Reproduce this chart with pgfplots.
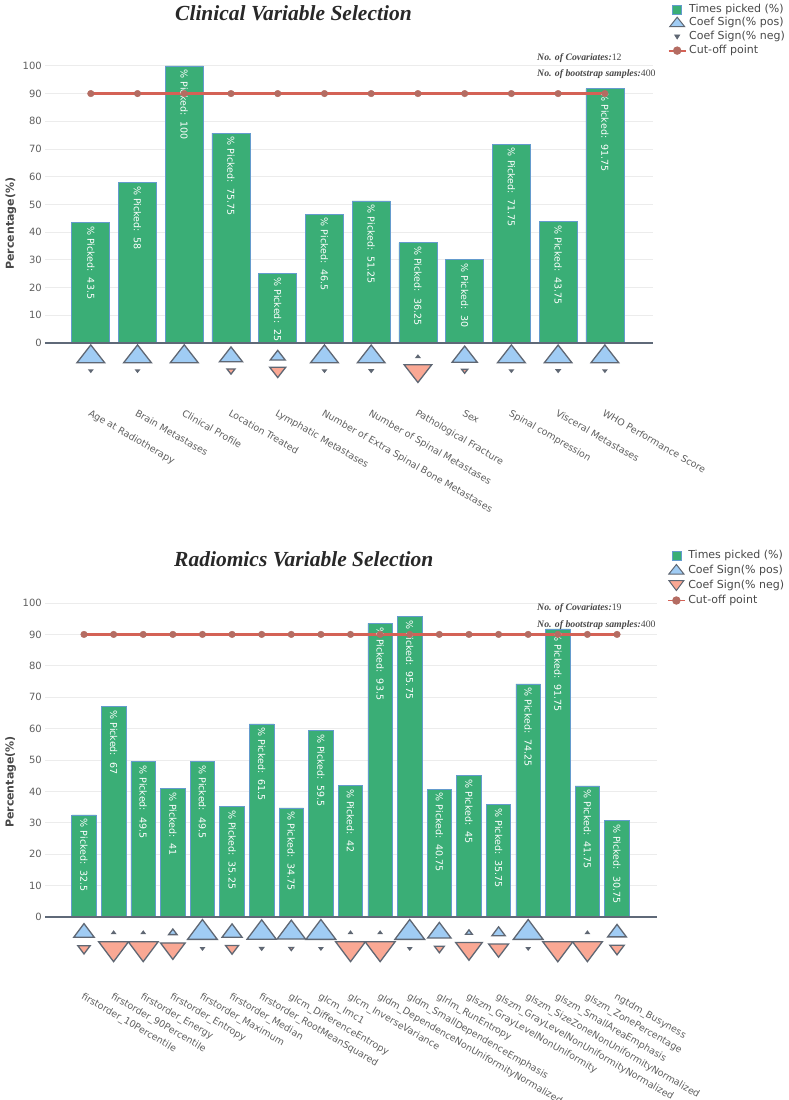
\documentclass[border=0pt]{standalone}
\usepackage{pgfplots}
\pgfplotsset{compat=1.18}
\usepackage{pgfplotstable}
\usepackage{fontspec}
\setmainfont{DejaVu Sans}
\newfontfamily\serifb{Liberation Serif}
\definecolor{barg}{RGB}{58,174,118}
\definecolor{baredge}{RGB}{100,155,205}
\definecolor{posf}{RGB}{160,204,244}
\definecolor{negf}{RGB}{250,168,148}
\definecolor{medge}{RGB}{95,103,115}
\definecolor{cutl}{RGB}{212,98,86}
\definecolor{cutm}{RGB}{180,108,98}
\definecolor{tickc}{RGB}{95,95,95}
\definecolor{gridc}{RGB}{236,236,236}
\definecolor{zeroc}{RGB}{95,105,120}
\definecolor{titc}{RGB}{40,40,40}

% clinical: x, % picked, % pos, % neg, marker rows, cut-off
\pgfplotstableread{
x pct pos neg yp yn cut
0 43.5 99 1 -5 -10 90
1 58 99 1 -5 -10 90
2 100 100 0 -5 nan 90
3 75.75 80 20 -5 -10 90
4 25 48 52 -5 -10 90
5 46.5 99 1 -5 -10 90
6 51.25 98 2 -5 -10 90
7 36.25 2 98 -5 -10 90
8 30 88 12 -5 -10 90
9 71.75 99 1 -5 -10 90
10 43.75 98 2 -5 -10 90
11 91.75 99 1 -5 -10 90
}\clin

\pgfplotstableread{
x pct pos neg yp yn cut
0 32.5 65 35 -5 -10 90
1 67 1 99 -5 -10 90
2 49.5 1 99 -5 -10 90
3 41 20 80 -5 -10 90
4 49.5 99 1 -5 -10 90
5 35.25 63 37 -5 -10 90
6 61.5 97 3 -5 -10 90
7 34.75 94 6 -5 -10 90
8 59.5 99 1 -5 -10 90
9 42 1 99 -5 -10 90
10 93.5 1 99 -5 -10 90
11 95.75 99 1 -5 -10 90
12 40.75 75 25 -5 -10 90
13 45 13 87 -5 -10 90
14 35.75 38 62 -5 -10 90
15 74.25 99 1 -5 -10 90
16 91.75 0 100 nan -10 90
17 41.75 1 99 -5 -10 90
18 30.75 58 42 -5 -10 90
}\radi

\pgfplotsset{
  common/.style={
    scale only axis, anchor=south west, clip=false,
    ymin=-19, ymax=105,
    axis line style={draw=none},
    major tick length=0pt, tick style={draw=none},
    ytick={10,20,...,100},
    extra y ticks={0}, extra y tick style={grid=none},
    ymajorgrids, grid style={gridc, line width=0.8pt},
    yticklabel style={font=\fontsize{10}{12}\selectfont, text=tickc, inner xsep=3pt},
    ylabel={Percentage(\%)},
    ylabel style={font=\fontsize{11}{13}\selectfont\bfseries, text=titc!85},
    /pgf/number format/assume math mode=true,
    legend cell align=left,
  },
  barsty/.style={ybar, fill=barg, draw=baredge, line width=0.7pt,
    nodes near coords={\%~Picked:~~\pgfmathprintnumber{\pgfplotspointmeta}},
    nodes near coords style={rotate=-90, anchor=west, font=\fontsize{9.5}{11}\selectfont, text=white, inner sep=0pt, inner xsep=3.5pt},
    legend image code/.code={\fill[barg, draw=baredge, line width=0.5pt] (0.3cm-4.5pt,-4.5pt) rectangle (0.3cm+4.5pt,4.5pt);}},
  cutsty/.style={cutl, line width=2.3pt, mark=*, mark size=3.3pt, mark options={fill=cutm, draw=cutm, line width=0.4pt},
    legend image code/.code={\draw[cutl, line width=1.8pt] (0cm,0cm) -- (0.6cm,0cm); \fill[cutm] (0.3cm,0cm) circle (3pt);}},
  tri/.style n args={3}{scatter, only marks, mark=triangle*, point meta=\thisrow{#1},
    scatter/use mapped color={draw=medge, fill=#2},
    visualization depends on={(2+#3*\thisrow{#1})/1.5 \as \msize},
    scatter/@pre marker code/.append style={/tikz/mark size=\msize}},
  legstyle/.style={draw=none, fill=none, anchor=north west,
    font=\fontsize{11}{12.5}\selectfont, text=titc!85,
    nodes={inner sep=1pt, inner xsep=2.5pt, text height=8pt, text depth=2.5pt}},
}

\begin{document}
\begin{tikzpicture}
% ---------------- Clinical ----------------
\begin{axis}[common,
  at={(45pt,-395.6pt)}, width=608pt, height=343.6pt,
  xmin=-0.98, xmax=12.03,
  xtick={0,...,11},
  xticklabels={Age at Radiotherapy, Brain Metastases, Clinical Profile, Location Treated, Lymphatic Metastases, Number of Extra Spinal Bone Metastases, Number of Spinal Metastases, Pathological Fracture, Sex, Spinal compression, Visceral Metastases, WHO Performance Score},
  xticklabel style={rotate=-30, anchor=north west, font=\fontsize{9.5}{11}\selectfont, text=tickc, inner sep=1pt, yshift=-10pt, xshift=6pt},
  ylabel style={at={(axis description cs:-0.056,0.5)}, anchor=center},
  legend style={legstyle, at={(axis description cs:1.019,1.149)}, row sep=1.2pt},
]
\addplot[barsty, bar width=38pt] table[x=x, y=pct] {\clin};
\addlegendentry{Times picked (\%)}
\addplot[tri={pos}{posf}{0.16}, mark options={xscale=1.35, line width=1.3pt},
  legend image code/.code={\draw[medge, fill=posf, line width=1pt] (0.3cm-7.5pt,-3.5pt) -- (0.3cm+7.5pt,-3.5pt) -- (0.3cm,6pt) -- cycle;}]
  table[x=x, y=yp] {\clin};
\addlegendentry{Coef Sign(\% pos)}
\addplot[tri={neg}{negf}{0.16}, mark options={rotate=180, xscale=1.35, line width=1.3pt},
  legend image code/.code={\draw[medge, fill=medge, line width=0.8pt] (0.3cm-2.5pt,2pt) -- (0.3cm+2.5pt,2pt) -- (0.3cm,-2pt) -- cycle;}]
  table[x=x, y=yn] {\clin};
\addlegendentry{Coef Sign(\% neg)}
\addplot[cutsty] table[x=x, y=cut] {\clin};
\addlegendentry{Cut-off point}
\draw[zeroc, line width=1.1pt] (axis cs:-0.98,0) -- (axis cs:12.03,0);
\end{axis}
\node[anchor=base west, inner sep=0pt, text=titc] at (175pt,-20pt)
  {\fontsize{21.5}{24}\selectfont\serifb\bfseries\itshape Clinical Variable Selection};
\node[anchor=base west, inner sep=0pt, text=titc!85] at (537pt,-60pt)
  {\fontsize{9.8}{12}\selectfont\serifb\textbf{\textit{No. of Covariates:}}12};
\node[anchor=base west, inner sep=0pt, text=titc!85] at (537pt,-76pt)
  {\fontsize{9.8}{12}\selectfont\serifb\textbf{\textit{No. of bootstrap samples:}}400};

% ---------------- Radiomics ----------------
\begin{axis}[common,
  at={(45pt,-976.7pt)}, width=612pt, height=389.4pt,
  xmin=-1.317, xmax=19.35,
  xtick={0,...,18},
  xticklabels={firstorder\_10Percentile, firstorder\_90Percentile, firstorder\_Energy, firstorder\_Entropy, firstorder\_Maximum, firstorder\_Median, firstorder\_RootMeanSquared, glcm\_DifferenceEntropy, glcm\_Imc1, glcm\_InverseVariance, gldm\_DependenceNonUniformityNormalized, gldm\_SmallDependenceEmphasis, glrlm\_RunEntropy, glszm\_GrayLevelNonUniformity, glszm\_GrayLevelNonUniformityNormalized, glszm\_SizeZoneNonUniformityNormalized, glszm\_SmallAreaEmphasis, glszm\_ZonePercentage, ngtdm\_Busyness},
  xticklabel style={rotate=-30, anchor=north west, font=\fontsize{9.5}{11}\selectfont, text=tickc, inner sep=1pt, yshift=-12pt, xshift=7pt},
  ylabel style={at={(axis description cs:-0.056,0.5)}, anchor=center},
  legend style={legstyle, at={(axis description cs:1.011,1.104)}, row sep=2.5pt},
]
\addplot[barsty, bar width=24.5pt] table[x=x, y=pct] {\radi};
\addlegendentry{Times picked (\%)}
\addplot[tri={pos}{posf}{0.18}, mark options={xscale=1.3, line width=1.3pt},
  legend image code/.code={\draw[medge, fill=posf, line width=1pt] (0.3cm-7.5pt,-3.5pt) -- (0.3cm+7.5pt,-3.5pt) -- (0.3cm,6pt) -- cycle;}]
  table[x=x, y=yp] {\radi};
\addlegendentry{Coef Sign(\% pos)}
\addplot[tri={neg}{negf}{0.18}, mark options={rotate=180, xscale=1.3, line width=1.3pt},
  legend image code/.code={\draw[medge, fill=negf, line width=1pt] (0.3cm-7.5pt,5pt) -- (0.3cm+7.5pt,5pt) -- (0.3cm,-5pt) -- cycle;}]
  table[x=x, y=yn] {\radi};
\addlegendentry{Coef Sign(\% neg)}
\addplot[cutsty] table[x=x, y=cut] {\radi};
\addlegendentry{Cut-off point}
\draw[zeroc, line width=1.1pt] (axis cs:-1.317,0) -- (axis cs:19.35,0);
\end{axis}
\node[anchor=base west, inner sep=0pt, text=titc] at (174pt,-566pt)
  {\fontsize{21.5}{24}\selectfont\serifb\bfseries\itshape Radiomics Variable Selection};
\node[anchor=base west, inner sep=0pt, text=titc!85] at (537pt,-610pt)
  {\fontsize{9.8}{12}\selectfont\serifb\textbf{\textit{No. of Covariates:}}19};
\node[anchor=base west, inner sep=0pt, text=titc!85] at (537pt,-627pt)
  {\fontsize{9.8}{12}\selectfont\serifb\textbf{\textit{No. of bootstrap samples:}}400};

\pgfresetboundingbox
\path[use as bounding box] (0,0) rectangle (789pt,-1100pt);
\end{tikzpicture}
\end{document}
